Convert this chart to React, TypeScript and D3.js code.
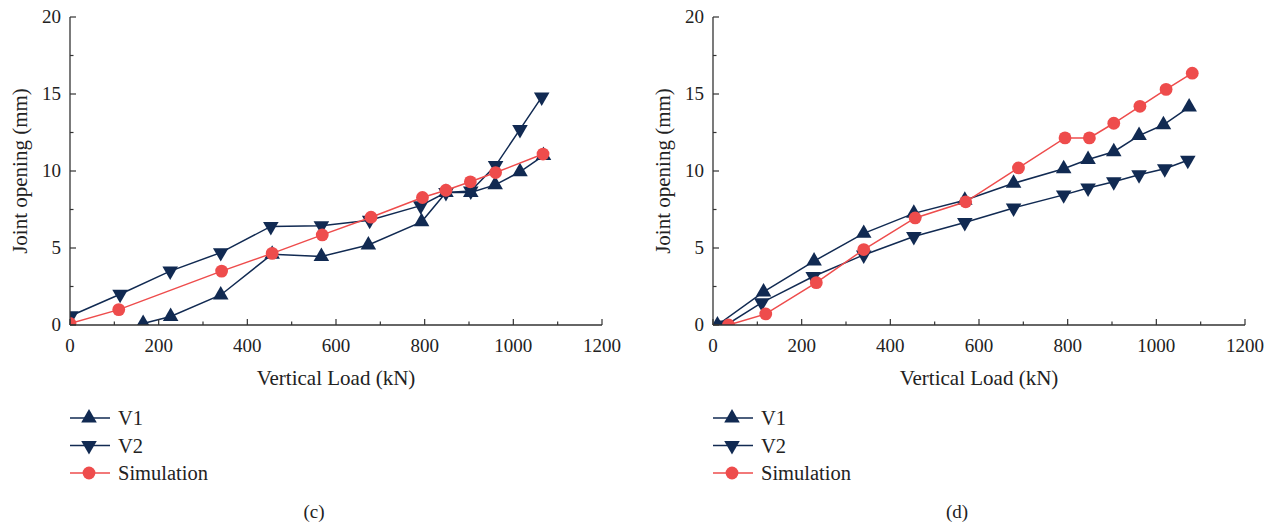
import React from "react";
import { scaleLinear, line, symbol, symbolTriangle, range } from "d3";

// Panel (c)
const c_v1_load = [165, 227, 340, 456, 567, 673, 793, 848, 904, 959, 1015, 1068];
const c_v1_open = [0.1, 0.55, 1.95, 4.6, 4.45, 5.2, 6.7, 8.6, 8.6, 9.1, 9.95, 11.0];
const c_v2_load = [2, 113, 226, 340, 453, 567, 676, 791, 848, 904, 960, 1015, 1064];
const c_v2_open = [0.6, 2.0, 3.5, 4.7, 6.4, 6.45, 6.8, 7.75, 8.6, 8.7, 10.35, 12.7, 14.8];
const c_sim_load = [0, 110, 342, 456, 569, 679, 795, 848, 903, 960, 1067];
const c_sim_open = [0.1, 1.0, 3.5, 4.65, 5.85, 7.0, 8.28, 8.75, 9.3, 9.9, 11.1];

// Panel (d)
const d_v1_load = [10, 114, 228, 340, 453, 568, 678, 791, 846, 904, 961, 1016, 1074];
const d_v1_open = [0, 2.15, 4.15, 5.95, 7.25, 8.1, 9.2, 10.15, 10.75, 11.25, 12.3, 13.0, 14.15];
const d_v2_load = [30, 110, 226, 340, 453, 568, 678, 791, 846, 904, 961, 1019, 1071];
const d_v2_open = [0, 1.45, 3.15, 4.55, 5.75, 6.65, 7.6, 8.45, 8.9, 9.3, 9.75, 10.15, 10.7];
const d_sim_load = [35, 119, 233, 340, 456, 570, 689, 794, 849, 904, 963, 1022, 1081];
const d_sim_open = [0, 0.72, 2.75, 4.9, 6.95, 8.0, 10.2, 12.15, 12.15, 13.1, 14.2, 15.3, 16.35];

const seriesNames = ["V1", "V2", "Simulation"];
const xTicks = range(0, 1201, 100);
const yTicks = range(0, 20.1, 2.5);

const NAVY = "#112a52";
const RED = "#ee4c4c";
const AXIS = "#333";
const FONT = "'Liberation Serif', 'DejaVu Serif', serif";

const triUp = symbol(symbolTriangle, 105)()!;

type Pt = [number, number];
const zip = (a: number[], b: number[]): Pt[] => a.map((v, i) => [v, b[i]]);

function Marker({ kind, x, y }: { kind: number; x: number; y: number }) {
  if (kind === 2) return <circle cx={x} cy={y} r={6.4} fill={RED} />;
  return (
    <path
      d={triUp}
      fill={NAVY}
      transform={`translate(${x},${y})${kind === 1 ? " rotate(180)" : ""}`}
    />
  );
}

function Panel({ left, id, label, series }: { left: number; id: string; label: string; series: Pt[][] }) {
  const x = scaleLinear().domain([0, 1200]).range([left, left + 532]);
  const y = scaleLinear().domain([0, 20]).range([325, 17]);
  const ln = line<Pt>().x((d) => x(d[0])).y((d) => y(d[1]));
  const colors = [NAVY, NAVY, RED];
  const midX = (x(0) + x(1200)) / 2;
  return (
    <g fontFamily={FONT} fill="#222">
      <defs>
        <clipPath id={id}>
          <rect x={x(0)} y={0} width={x(1200) - x(0) + 10} height={y(0)} />
        </clipPath>
      </defs>
      <g clipPath={`url(#${id})`}>
        {series.map((s, i) => (
          <g key={i}>
            <path d={ln(s)!} fill="none" stroke={colors[i]} strokeWidth={1.5} />
            {s.map((d, j) => (
              <Marker key={j} kind={i} x={x(d[0])} y={y(d[1])} />
            ))}
          </g>
        ))}
      </g>
      {/* axes */}
      <line x1={x(0)} x2={x(0)} y1={y(20)} y2={y(0)} stroke={AXIS} strokeWidth={1.3} />
      <line x1={x(0)} x2={x(1200)} y1={y(0)} y2={y(0)} stroke={AXIS} strokeWidth={1.3} />
      {xTicks.map((t) => (
        <line key={t} x1={x(t)} x2={x(t)} y1={y(0)} y2={y(0) - (t % 200 === 0 ? 6 : 3.5)} stroke={AXIS} strokeWidth={1.2} />
      ))}
      {yTicks.map((t) => (
        <line key={t} x1={x(0)} x2={x(0) + (t % 5 === 0 ? 6 : 3.5)} y1={y(t)} y2={y(t)} stroke={AXIS} strokeWidth={1.2} />
      ))}
      {xTicks.filter((t) => t % 200 === 0).map((t) => (
        <text key={t} x={x(t)} y={352} textAnchor="middle" fontSize={19}>{t}</text>
      ))}
      {yTicks.filter((t) => t % 5 === 0).map((t) => (
        <text key={t} x={x(0) - 9} y={y(t) + 6} textAnchor="end" fontSize={19}>{t}</text>
      ))}
      <text x={midX} y={385} textAnchor="middle" fontSize={21}>Vertical Load (kN)</text>
      <text transform={`translate(${left - 43},${y(10)}) rotate(-90)`} textAnchor="middle" fontSize={21}>
        Joint opening (mm)
      </text>
      {/* legend */}
      {seriesNames.map((n, i) => {
        const ly = 418 + i * 27.5;
        return (
          <g key={n}>
            <line x1={left} x2={left + 40} y1={ly} y2={ly} stroke={colors[i]} strokeWidth={1.5} />
            <Marker kind={i} x={left + 19} y={ly} />
            <text x={left + 48} y={ly + 7} fontSize={20.5}>{n}</text>
          </g>
        );
      })}
      <text x={midX - 22} y={518} textAnchor="middle" fontSize={19}>{label}</text>
    </g>
  );
}

export default function App() {
  const c = [zip(c_v1_load, c_v1_open), zip(c_v2_load, c_v2_open), zip(c_sim_load, c_sim_open)];
  const d = [zip(d_v1_load, d_v1_open), zip(d_v2_load, d_v2_open), zip(d_sim_load, d_sim_open)];
  return (
    <div style={{ position: "absolute", left: 0, top: 0 }}>
      <svg width={1275} height={529} style={{ display: "block", background: "#fff" }}>
        <Panel left={70} id="clipc" label="(c)" series={c} />
        <Panel left={713} id="clipd" label="(d)" series={d} />
      </svg>
    </div>
  );
}
